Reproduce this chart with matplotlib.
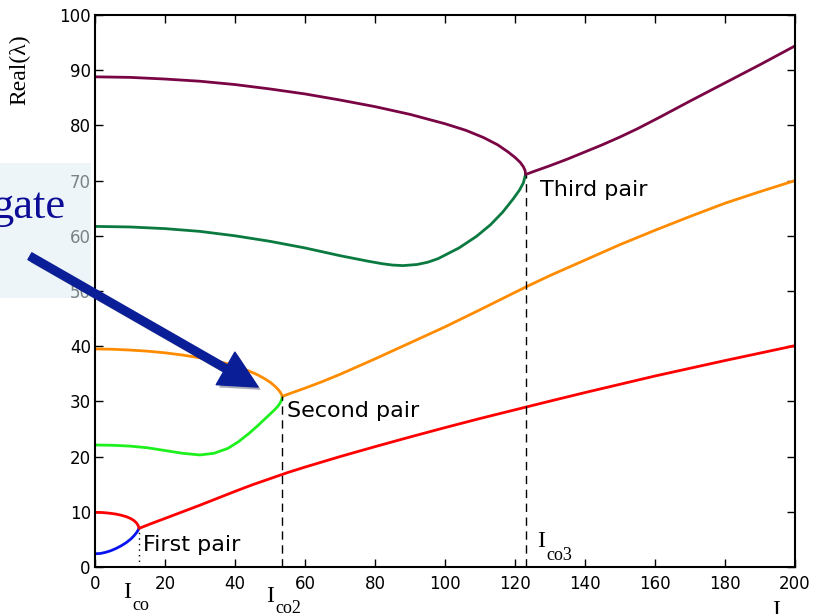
import matplotlib
matplotlib.use('Agg')
import matplotlib.pyplot as plt
import matplotlib.patheffects as pe
from matplotlib.patches import Rectangle

# first pair (branches meet at I_co)
x1 = [0, 1.5, 3, 4.5, 6, 7.5, 9, 10.2, 11.2, 11.9, 12.3, 12.6]
red_up = [9.9, 9.88, 9.82, 9.72, 9.58, 9.38, 9.1, 8.78, 8.38, 7.95, 7.55, 7.0]
blue_lo = [2.4, 2.45, 2.65, 2.95, 3.35, 3.85, 4.45, 5.05, 5.7, 6.25, 6.65, 7.0]
x1_after = [12.6, 16, 20, 25, 30, 35, 40, 45, 50, 55, 60, 65, 70, 80, 90, 100, 110,
            123, 130, 140, 150, 160, 170, 180, 190, 200]
red_after = [7.0, 7.85, 8.8, 10.0, 11.2, 12.45, 13.7, 14.9, 16.0, 17.1, 18.1, 19.05, 20.0,
             21.8, 23.55, 25.25, 26.9, 28.95, 30.05, 31.6, 33.1, 34.6, 36.0, 37.4, 38.75, 40.1]

# second pair (I_co2)
x2 = [0, 5, 10, 15, 20, 25, 30, 34, 38, 41, 44, 46.5, 48.5, 50.2, 51.5, 52.4, 53.0, 53.35, 53.5]
orange_up = [39.5, 39.45, 39.3, 39.1, 38.8, 38.4, 37.9, 37.4, 36.8, 36.2, 35.5, 34.8, 34.1,
             33.4, 32.7, 32.1, 31.6, 31.2, 30.9]
green_lo = [22.1, 22.05, 21.9, 21.6, 21.1, 20.6, 20.3, 20.6, 21.5, 22.7, 24.2, 25.6, 26.8,
            27.8, 28.6, 29.25, 29.85, 30.35, 30.9]
x2_after = [53.5, 56, 60, 65, 70, 80, 90, 100, 110, 123, 130, 140, 150, 160, 170, 180, 190, 200]
orange_after = [30.9, 31.5, 32.4, 33.6, 34.9, 37.7, 40.6, 43.5, 46.6, 50.7, 52.8, 55.6, 58.4,
                61.0, 63.5, 65.9, 68.0, 70.0]

# third pair (I_co3)
x3_up = [0, 10, 20, 30, 40, 50, 60, 70, 80, 90, 100, 106, 111, 115, 118, 120, 121.5, 122.4,
         122.9, 123]
purple_up = [88.8, 88.7, 88.4, 88.0, 87.4, 86.6, 85.7, 84.6, 83.4, 82.0, 80.3, 79.1, 77.8,
             76.5, 75.2, 74.2, 73.3, 72.5, 71.8, 71.1]
x3_lo = [0, 10, 20, 30, 40, 50, 60, 70, 78, 82, 85, 88, 92, 95, 98, 104, 109, 113, 116.5,
         119.5, 121.3, 122.4, 123]
dkgreen_lo = [61.7, 61.6, 61.3, 60.8, 60.0, 59.0, 57.8, 56.4, 55.4, 54.95, 54.7, 54.6, 54.8,
              55.2, 55.85, 57.8, 59.9, 62.0, 64.3, 66.7, 68.3, 69.6, 71.1]
x3_after = [123, 126, 130, 135, 140, 145, 150, 155, 161.4, 170, 180, 190, 200]
purple_after = [71.1, 71.8, 72.7, 73.9, 75.2, 76.5, 77.9, 79.4, 81.5, 84.4, 87.7, 91.0, 94.4]

# crossover points
I_co, I_co2, I_co3 = 12.6, 53.5, 123
y_co, y_co2, y_co3 = 7.0, 30.9, 71.1

fig = plt.figure(figsize=(8.14, 6.14), dpi=100)
ax = fig.add_axes([95 / 814, 1 - 567 / 614, 700 / 814, 552 / 614])

lw = 2.0
kw = dict(lw=lw, solid_capstyle='round', solid_joinstyle='round')
ax.plot(x1, red_up, color='#ff0000', **kw)
ax.plot(x1, blue_lo, color='#0a14f0', **kw)
ax.plot(x1_after, red_after, color='#ff0000', **kw)
ax.plot(x2, orange_up, color='#ff8c00', **kw)
ax.plot(x2, green_lo, color='#1ef01e', **kw)
ax.plot(x2_after, orange_after, color='#ff8c00', **kw)
ax.plot(x3_up, purple_up, color='#7a0545', **kw)
ax.plot(x3_lo, dkgreen_lo, color='#0a7a40', **kw)
ax.plot(x3_after, purple_after, color='#7a0545', **kw)

ax.plot([I_co, I_co], [0, y_co], color='k', lw=1, ls=(0, (1, 3)))
ax.plot([I_co2, I_co2], [0, y_co2], color='k', lw=1, ls=(0, (6, 4)))
ax.plot([I_co3, I_co3], [0, y_co3], color='k', lw=1, ls=(0, (6, 4)))

ax.text(13.7, 4.0, 'First pair', fontsize=16, va='center')
ax.text(54.9, 28.3, 'Second pair', fontsize=16, va='center')
ax.text(127.1, 68.3, 'Third pair', fontsize=16, va='center')

ax.set_xlim(0, 200)
ax.set_ylim(0, 100)
ax.set_xticks(range(0, 201, 20))
ax.set_yticks(range(0, 101, 10))
ax.tick_params(direction='in', top=True, right=True, length=6, width=1, labelsize=12)
ax.tick_params(axis='x', pad=6)
ax.tick_params(axis='y', pad=3)
for s in ax.spines.values():
    s.set_linewidth(1.5)

serif = 'Liberation Serif'
fig.text(20 / 814, 1 - 70 / 614, 'Real(λ)', rotation=90, family=serif,
         fontsize=17, ha='center', va='center')

def sub_label(x_px, base_px, sub, sub_base_px):
    fig.text(x_px / 814, 1 - base_px / 614, 'I', family=serif, fontsize=17, va='baseline')
    if sub:
        fig.text((x_px + 9) / 814, 1 - sub_base_px / 614, sub, family=serif,
                 fontsize=13, va='baseline')

sub_label(123, 598, 'co', 610)
sub_label(266, 602, 'co2', 613)
sub_label(537, 547, 'co3', 560)
fig.text(772 / 814, 1 - 600 / 614, 'I', family=serif, fontsize=17, va='top')

# pasted callout box over the left margin
box = Rectangle((0, 1 - 298 / 614), 91 / 814, 135 / 614, transform=fig.transFigure,
                facecolor='#e0eef4', alpha=0.55, edgecolor='none', zorder=5, clip_on=False)
ax.add_artist(box)
ax.text(65 / 814, 1 - 218 / 614, 'gate', transform=fig.transFigure, ha='right',
        va='baseline', fontsize=32, family=serif, color='#0c0c96', zorder=6, clip_on=False)

ax.annotate('', xy=(46.6, 32.6), xytext=(-18.6, 56.3), annotation_clip=False, zorder=7,
            arrowprops=dict(arrowstyle='simple,head_length=1.35,head_width=1.35,tail_width=0.28',
                            mutation_scale=20, color='#0a1e98', shrinkA=0, shrinkB=0,
                            path_effects=[pe.SimplePatchShadow(offset=(2, -2), alpha=0.35),
                                          pe.Normal()]))

fig.savefig('out.png', dpi=100)
